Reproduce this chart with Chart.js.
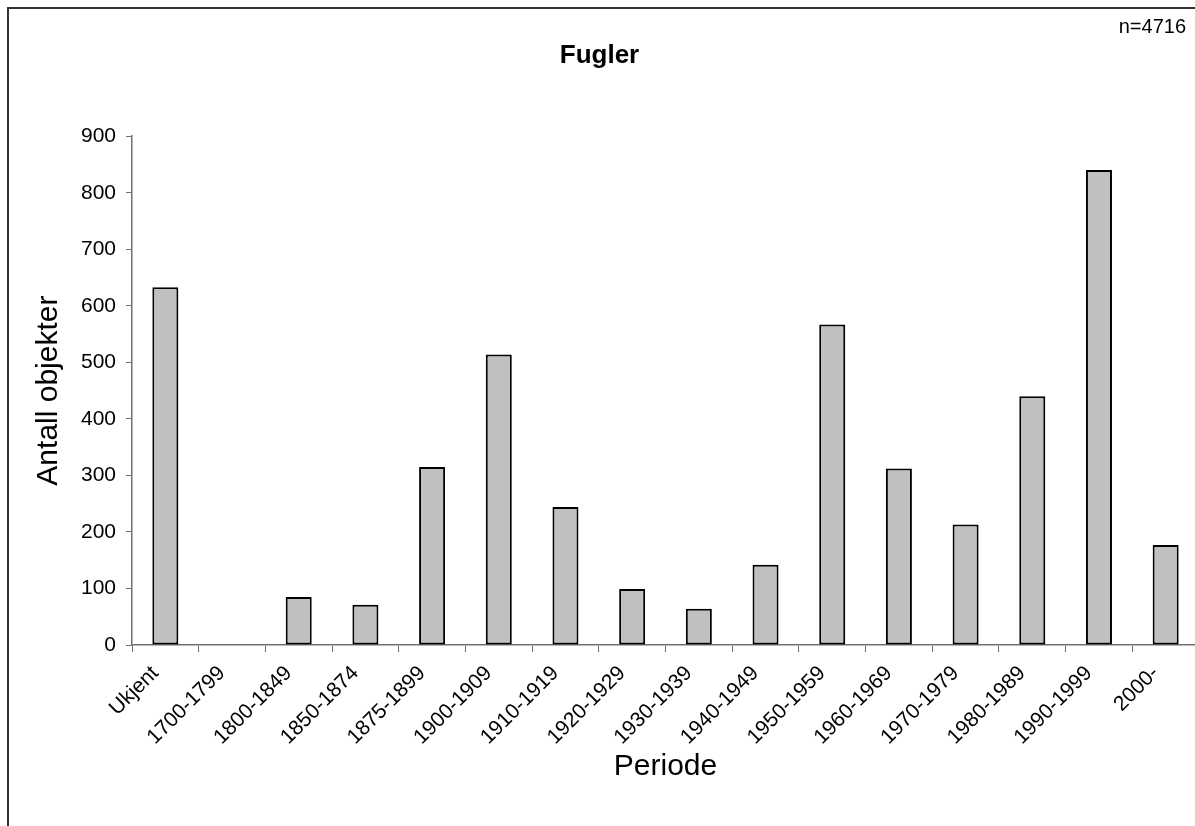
<!DOCTYPE html>
<html lang="no">
<head>
  <meta charset="UTF-8" />
  <title>Fugler</title>
  <script src="https://cdn.jsdelivr.net/npm/chart.js"></script>
  <style>
    html, body { margin: 0; padding: 0; background: #fff; overflow: hidden; }
    #wrap { width: 1195px; height: 826px; overflow: hidden; }
  </style>
</head>
<body>
  <div id="wrap">
    <canvas id="chart" width="1200" height="826" style="width:1200px;height:826px;"></canvas>
  </div>

  <script>
    const periods = ['Ukjent', '1700-1799', '1800-1849', '1850-1874', '1875-1899', '1900-1909',
      '1910-1919', '1920-1929', '1930-1939', '1940-1949', '1950-1959', '1960-1969',
      '1970-1979', '1980-1989', '1990-1999', '2000-'];
    const counts = [633, 0, 85, 71, 315, 514, 244, 99, 64, 142, 567, 312, 213, 440, 840, 177];
    const chartTitle = 'Fugler';
    const totalLabel = 'n=4716';

    const font = 'Liberation Sans, Arial, sans-serif';

    // frame round the chart + the "n=" note in the corner
    const framePlugin = {
      id: 'frame',
      beforeDraw(chart) {
        const ctx = chart.ctx;
        ctx.save();
        ctx.strokeStyle = '#333';
        ctx.lineWidth = 2;
        ctx.strokeRect(8, 8, 1400, 1000);
        ctx.restore();
      },
      afterDraw(chart) {
        const ctx = chart.ctx;
        ctx.save();
        ctx.fillStyle = '#000';
        ctx.font = '20px ' + font;
        ctx.textAlign = 'right';
        ctx.textBaseline = 'alphabetic';
        ctx.fillText(totalLabel, 1186, 33);
        ctx.restore();
      }
    };

    new Chart(document.getElementById('chart'), {
      type: 'bar',
      data: {
        labels: periods,
        datasets: [{
          data: counts,
          backgroundColor: '#C0C0C0',
          borderColor: '#000',
          borderWidth: 2,
          borderSkipped: false,
          barPercentage: 0.39,
          categoryPercentage: 1
        }]
      },
      options: {
        responsive: false,
        animation: false,
        layout: { padding: { left: 0, right: 1, top: 0, bottom: 0 } },
        plugins: {
          legend: { display: false },
          tooltip: { enabled: false },
          title: {
            display: true,
            text: chartTitle,
            color: '#000',
            font: { family: font, size: 26, weight: 'bold' },
            padding: { top: 40, bottom: 65 }
          }
        },
        scales: {
          x: {
            offset: true,
            grid: { offset: true, drawOnChartArea: false, tickLength: 7, color: '#707070' },
            border: { color: '#707070', width: 1.5 },
            ticks: {
              autoSkip: false, minRotation: 45, maxRotation: 45,
              color: '#000', padding: 9, labelOffset: -10,
              font: { family: font, size: 21 }
            },
            title: {
              display: true, text: 'Periode', color: '#000',
              font: { family: font, size: 30 },
              padding: { top: 0, bottom: 41 }
            },
            afterFit(s) { s.height = 181; }
          },
          y: {
            min: 0, max: 900,
            grid: { drawOnChartArea: false, tickLength: 6, color: '#707070' },
            border: { color: '#707070', width: 1.5 },
            ticks: {
              stepSize: 100, color: '#000', padding: 10,
              font: { family: font, size: 21 }
            },
            title: {
              display: true, text: 'Antall objekter', color: '#000',
              font: { family: font, size: 30 },
              padding: { top: 31, bottom: 0 }
            },
            afterFit(s) { s.width = 132; }
          }
        }
      },
      plugins: [framePlugin]
    });
  </script>
</body>
</html>
